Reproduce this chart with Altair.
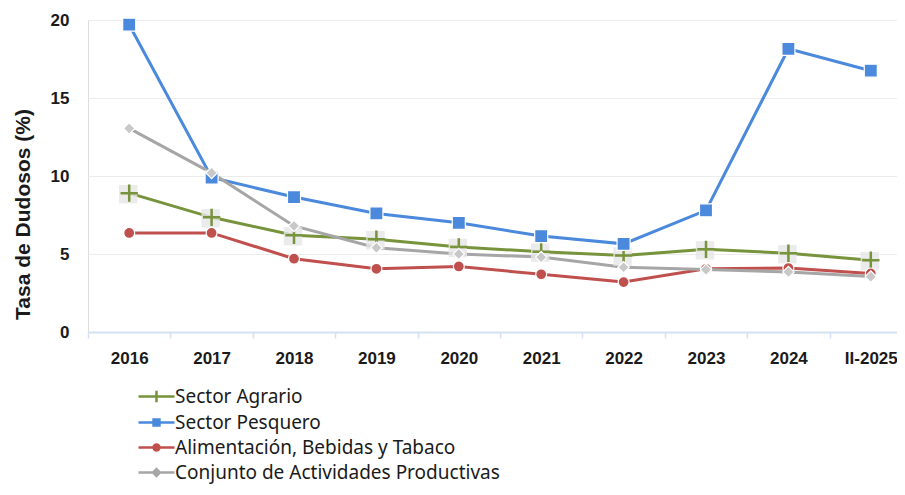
import altair as alt
import pandas as pd

periodos = ["2016", "2017", "2018", "2019", "2020", "2021", "2022", "2023", "2024", "II-2025"]
series = ["Sector Agrario", "Sector Pesquero", "Alimentación, Bebidas y Tabaco",
          "Conjunto de Actividades Productivas"]
agrario = [8.9, 7.35, 6.2, 5.95, 5.45, 5.15, 4.9, 5.3, 5.05, 4.6]
pesquero = [19.7, 9.9, 8.65, 7.6, 7.0, 6.15, 5.65, 7.8, 18.15, 16.75]
alimentacion = [6.35, 6.35, 4.7, 4.05, 4.2, 3.7, 3.2, 4.05, 4.1, 3.75]
conjunto = [13.05, 10.2, 6.8, 5.4, 5.0, 4.8, 4.15, 4.0, 3.85, 3.55]

colores = ["#77933C", "#4A89DC", "#C0504D", "#A6A6A6"]
relleno_marcador = ["#77933C", "#4A89DC", "#C0504D", "#C8C8C8"]
formas = ["M-1,0H1M0,-1V1", "square", "circle", "diamond"]
tamanos = [300, 170, 120, 130]
leyenda_formas = [
    "M-2,0H2M0,-0.65V0.65",
    "M-2,0H2M-0.33,-0.33H0.33V0.33H-0.33Z",
    "M-2,0H2M0.33,0A0.33,0.33,0,1,1,-0.33,0A0.33,0.33,0,1,1,0.33,0Z",
    "M-2,0H2M0,-0.38L0.38,0L0,0.38L-0.38,0Z",
]

filas = []
for s, vals in zip(series, [agrario, pesquero, alimentacion, conjunto]):
    for p, v in zip(periodos, vals):
        filas.append({"periodo": p, "serie": s, "valor": v})
df = pd.DataFrame(filas)

FONT = "Liberation Sans"
x_enc = alt.X(
    "periodo:N", sort=periodos, bandPosition=0.5,
    scale=alt.Scale(type="band", range=[0, 824], paddingInner=0, paddingOuter=0),
    axis=alt.Axis(title=None, labelAngle=0, labelFont=FONT, labelFontWeight="bold",
                  labelFontSize=17, labelColor="#1a1a1a", labelPadding=12,
                  tickBand="extent", tickSize=6, tickColor="#D3E1F2", tickWidth=1.5,
                  domainColor="#D3E1F2", domainWidth=2, grid=False),
)
y_enc = alt.Y(
    "valor:Q", scale=alt.Scale(domain=[0, 20], nice=False),
    axis=alt.Axis(values=[0, 5, 10, 15, 20], title="Tasa de Dudosos (%)", titleFont=FONT,
                  titleFontSize=21, titleFontWeight="bold", titleColor="#1a1a1a",
                  titleX=-65, titleY=194, titleBaseline="middle",
                  labelFont=FONT, labelFontWeight="bold", labelFontSize=17,
                  labelColor="#1a1a1a", labelPadding=19, ticks=False, domain=False,
                  grid=True, gridColor="#ECECEC", gridWidth=1.2),
)

base = alt.Chart(df)

leyenda = alt.Legend(title=None, orient="none", legendX=58, legendY=366, padding=0,
                     symbolSize=324, symbolStrokeWidth=2.5, symbolOpacity=1,
                     labelFont="Noto Sans", labelFontSize=19, labelColor="#1a1a1a",
                     labelOffset=8, rowPadding=4, labelLimit=600)
capa_leyenda = base.mark_point(filled=True, strokeWidth=2.5, opacity=0).encode(
    x=x_enc, y=y_enc,
    fill=alt.Fill("serie:N", scale=alt.Scale(domain=series, range=colores), legend=leyenda),
    stroke=alt.Stroke("serie:N", scale=alt.Scale(domain=series, range=colores), legend=leyenda),
    shape=alt.Shape("serie:N", scale=alt.Scale(domain=series, range=leyenda_formas), legend=leyenda),
)

lineas = base.mark_line(strokeWidth=3).encode(
    x=x_enc, y=y_enc,
    color=alt.Color("serie:N", scale=alt.Scale(domain=series, range=colores), legend=None),
)

capas = [capa_leyenda, lineas]
for i, s in enumerate(series):
    sub = base.transform_filter(alt.datum.serie == s)
    if i == 0:
        capas.append(sub.mark_point(shape="square", filled=True, color="#E6E6E6", size=340,
                                    opacity=0.8, xOffset=-1, yOffset=1).encode(x=x_enc, y=y_enc))
        capas.append(sub.mark_point(shape=formas[i], filled=False, stroke=colores[i],
                                    strokeWidth=2.5, size=tamanos[i], opacity=1)
                     .encode(x=x_enc, y=y_enc))
    else:
        capas.append(sub.mark_point(shape=formas[i], filled=True, fill=relleno_marcador[i],
                                    stroke="white", strokeWidth=1.2, size=tamanos[i], opacity=1)
                     .encode(x=x_enc, y=y_enc))

chart = alt.layer(*capas).properties(
    width=809, height=312,
    autosize=alt.AutoSizeParams(type="none"),
    padding={"left": 80, "top": 12, "right": 0, "bottom": 155},
).configure_view(stroke=None).configure(background="white")

chart.save("out.html", embed_options={"renderer": "svg", "actions": False})
